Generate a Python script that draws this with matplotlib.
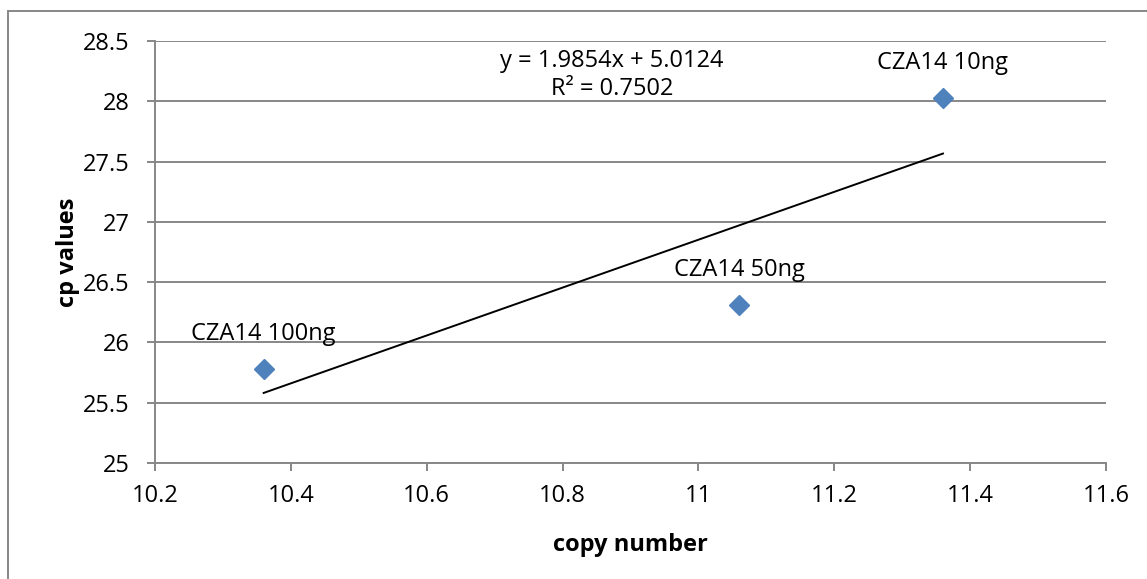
import matplotlib
matplotlib.use("Agg")
import matplotlib.pyplot as plt
from matplotlib.patches import Rectangle

# Data
copy_number = [10.36, 11.06, 11.36]
cp_values = [25.78, 26.31, 28.03]
point_labels = ["CZA14 100ng", "CZA14 50ng", "CZA14 10ng"]
slope, intercept = 1.9854, 5.0124
r_squared = 0.7502
x_ticks = [10.2, 10.4, 10.6, 10.8, 11.0, 11.2, 11.4, 11.6]
x_tick_labels = ["10.2", "10.4", "10.6", "10.8", "11", "11.2", "11.4", "11.6"]
y_ticks = [25, 25.5, 26, 26.5, 27, 27.5, 28, 28.5]
y_tick_labels = ["25", "25.5", "26", "26.5", "27", "27.5", "28", "28.5"]

plt.rcParams['font.family'] = ['Open Sans', 'DejaVu Sans']
FS = 17
W, H = 1147, 579
fig = plt.figure(figsize=(W / 100, H / 100), dpi=100)
ax = fig.add_axes([155 / W, 1 - 463 / H, (1106 - 155) / W, (463 - 41) / H])

grid_c = "#878787"
ax.set_xlim(10.2, 11.6)
ax.set_ylim(25, 28.5)
ax.set_xticks(x_ticks)
ax.set_xticklabels(x_tick_labels)
ax.set_yticks(y_ticks)
ax.set_yticklabels(y_tick_labels)
ax.yaxis.grid(True, color=grid_c, lw=1.4)
ax.set_axisbelow(True)
for s in ("top", "right"):
    ax.spines[s].set_visible(False)
for s in ("left", "bottom"):
    ax.spines[s].set_color(grid_c)
    ax.spines[s].set_linewidth(1.4)
ax.tick_params(axis="both", colors=grid_c, length=6, width=1.4, labelsize=FS,
               labelcolor="black")
ax.tick_params(axis="x", pad=9)
ax.tick_params(axis="y", pad=12)

# Linear trendline across the data range
x0, x1 = min(copy_number), max(copy_number)
ax.plot([x0, x1], [slope * x0 + intercept, slope * x1 + intercept],
        color="black", lw=1.4, zorder=2)

ax.plot(copy_number, cp_values, linestyle="none", marker="D", markersize=10,
        color="#4F81BD", zorder=3)

for x, y, lab in zip(copy_number, cp_values, point_labels):
    ax.annotate(lab, (x, y), xytext=(0, 21), textcoords="offset points",
                ha="center", va="baseline", fontsize=FS)

ax.text(10.873, 28.22, f"y = {slope}x + {intercept}\nR² = {r_squared}",
        ha="center", va="center", fontsize=FS, linespacing=1.2)

ax.set_xlabel("copy number", fontsize=FS, fontweight="bold", labelpad=18)
ax.set_ylabel("cp values", fontsize=FS, fontweight="bold", labelpad=2)

# Chart-area border
fig.patches.append(Rectangle((8 / W, -0.05), 1.2, 1 - 11 / H + 0.05,
                             transform=fig.transFigure, fill=False,
                             edgecolor=grid_c, lw=1.4))

fig.savefig("out.png", dpi=100, facecolor="white")
